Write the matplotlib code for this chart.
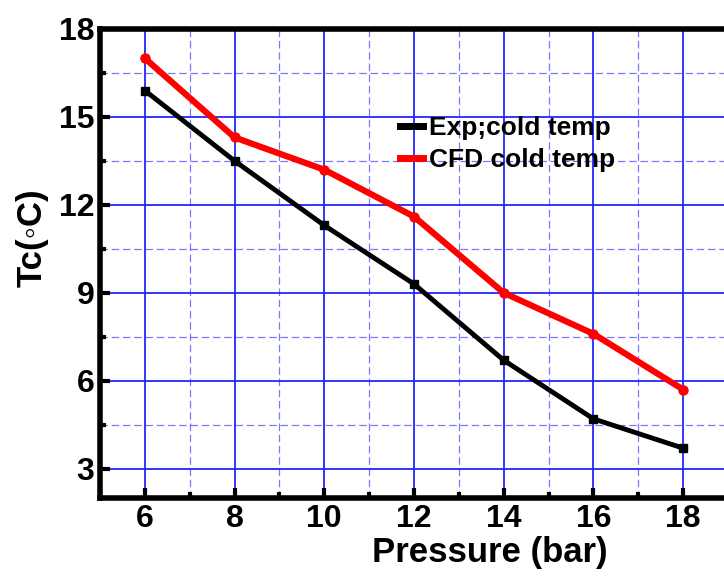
#!/usr/bin/env python3
"""Cold temperature vs pressure: experiment vs CFD"""
import matplotlib
matplotlib.use('Agg')
import matplotlib.pyplot as plt
from matplotlib.ticker import MultipleLocator

pressure = [6, 8, 10, 12, 14, 16, 18]
exp_cold = [15.9, 13.5, 11.3, 9.3, 6.7, 4.7, 3.7]
cfd_cold = [17.0, 14.3, 13.2, 11.6, 9.0, 7.6, 5.7]

plt.rcParams['font.family'] = ['Liberation Sans', 'DejaVu Sans']
plt.rcParams['font.weight'] = 'bold'

GRID = '#2020ff'
fig = plt.figure(figsize=(7.24, 5.77), dpi=100)
# right spine sits just past the figure edge, as in the cropped original
ax = fig.add_axes([100/724, 1 - 498/577, 628/724, 469/577])

ax.plot(pressure, exp_cold, color='black', lw=3.5, marker='s', ms=5.5, label='Exp;cold temp', zorder=3)
ax.plot(pressure, cfd_cold, color='#ff0000', lw=4.5, marker='o', ms=6.5, label='CFD cold temp', zorder=4)

ax.set_xlim(5, 19); ax.set_ylim(2, 18)
ax.xaxis.set_major_locator(MultipleLocator(2)); ax.xaxis.set_minor_locator(MultipleLocator(1))
ax.yaxis.set_major_locator(MultipleLocator(3)); ax.yaxis.set_minor_locator(MultipleLocator(1.5))
ax.grid(which='major', color=GRID, lw=1.4, alpha=0.9)
ax.grid(which='minor', color=GRID, lw=0.9, ls=(0, (6, 3)), alpha=0.6)
ax.set_axisbelow(True)

for s in ax.spines.values():
    s.set_linewidth(4)
ax.tick_params(which='major', direction='in', length=7, width=3, labelsize=23, pad=4)
ax.tick_params(which='minor', direction='in', length=4, width=3)
ax.tick_params(top=False, right=False, which='both')
for lb in ax.get_xticklabels() + ax.get_yticklabels():
    lb.set_fontweight('bold')

ax.set_xlabel('Pressure (bar)', fontsize=25, fontweight='bold')
ax.xaxis.set_label_coords(0.621, -0.082)
ax.set_ylabel('Tc(◦C)', fontsize=25, fontweight='bold')
ax.yaxis.set_label_coords(-0.082, 0.556)

leg = ax.legend(loc='upper left', bbox_to_anchor=(0.44, 0.865), frameon=False, fontsize=19,
                handlelength=0.85, handletextpad=0.25, labelspacing=0.3, markerscale=0)
for h in leg.legend_handles:
    h.set_marker('')
    h.set_linewidth(5)
for t in leg.get_texts():
    t.set_fontweight('bold')

fig.savefig('out.png', dpi=100)
